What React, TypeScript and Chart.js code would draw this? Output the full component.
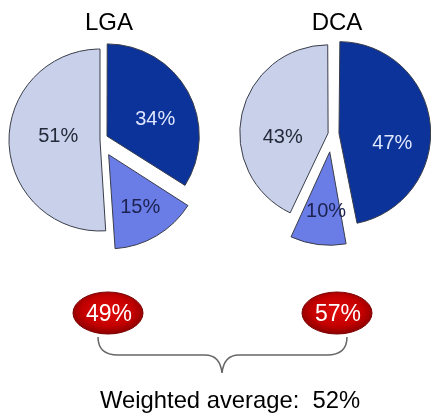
import React, { useEffect, useRef } from "react";
import { Chart, registerables } from "chart.js";

Chart.register(...registerables);

// ---- data ----
const airports = ["LGA", "DCA"];
const segments = ["Segment 1", "Segment 2", "Segment 3"];
const lgaShares = [34, 15, 51];
const dcaShares = [47, 10, 43];
const ovalValues = [49, 57];
const weightedAverage = 52;

// ---- styles ----
const sliceColors = ["#0b3399", "#6a7ce6", "#c9d1ea"];
const labelColors = ["#dfe6ff", "#1c2250", "#252a3a"];
const FONT = "'Liberation Sans', Arial, sans-serif";

type PieCfg = {
  values: number[];
  offsets: number[]; // translation in px
  radius: number;
  padding: { left: number; right: number; top: number; bottom: number };
  labelFrac: number[];
  labelTurn: number[];
  left: number;
  width: number;
  height: number;
};

const pieConfigs: PieCfg[] = [
  {
    values: lgaShares,
    offsets: [8, 17, 0],
    radius: 91,
    padding: { left: 0, right: 15, top: 20, bottom: 0 },
    labelFrac: [0.56, 0.68, 0.46],
    labelTurn: [10, 0, 6],
    left: 0,
    width: 215,
    height: 260,
  },
  {
    values: dcaShares,
    offsets: [7, 18, 4],
    radius: 86,
    padding: { left: 18, right: 0, top: 8, bottom: 0 },
    labelFrac: [0.63, 0.69, 0.53],
    labelTurn: [15.7, -3.6, -17.6],
    left: 215,
    width: 216,
    height: 260,
  },
];

const sliceLabelPlugin = {
  id: "sliceLabels",
  afterDatasetsDraw(chart: any, _args: any, opts: any) {
    const ctx = chart.ctx as CanvasRenderingContext2D;
    const meta = chart.getDatasetMeta(0);
    const values = chart.data.datasets[0].data as number[];
    ctx.save();
    ctx.font = `20px ${FONT}`;
    ctx.textAlign = "center";
    ctx.textBaseline = "middle";
    meta.data.forEach((arc: any, i: number) => {
      const p = arc.getProps(["x", "y", "startAngle", "endAngle", "outerRadius"], true);
      const off = (arc.options.offset || 0) / 4;
      const mid = (p.startAngle + p.endAngle) / 2;
      const vx = p.x + Math.cos(mid) * off;
      const vy = p.y + Math.sin(mid) * off;
      const a = mid + ((opts.turn[i] || 0) * Math.PI) / 180;
      const r = p.outerRadius * opts.frac[i];
      ctx.fillStyle = labelColors[i];
      ctx.fillText(`${values[i]}%`, vx + Math.cos(a) * r, vy + Math.sin(a) * r);
    });
    ctx.restore();
  },
};

function Pie({ cfg }: { cfg: PieCfg }) {
  const ref = useRef<HTMLCanvasElement | null>(null);
  useEffect(() => {
    if (!ref.current) return;
    const chart = new Chart(ref.current, {
      type: "pie",
      data: {
        labels: segments,
        datasets: [
          {
            data: cfg.values,
            backgroundColor: sliceColors,
            borderColor: "#3a3d4a",
            borderWidth: 1,
            offset: cfg.offsets.map((d) => d * 4),
          } as any,
        ],
      },
      options: {
        responsive: false,
        animation: false,
        radius: cfg.radius,
        layout: { padding: cfg.padding },
        plugins: {
          legend: { display: false },
          tooltip: { enabled: false },
          title: { display: false },
          sliceLabels: { frac: cfg.labelFrac, turn: cfg.labelTurn },
        } as any,
        events: [],
      } as any,
      plugins: [sliceLabelPlugin],
    });
    return () => chart.destroy();
  }, [cfg]);
  return (
    <canvas
      ref={ref}
      width={cfg.width}
      height={cfg.height}
      style={{ position: "absolute", left: cfg.left, top: 0, width: cfg.width, height: cfg.height }}
    />
  );
}

const titleX = [109, 337];
const ovalX = [108, 337];

export default function App() {
  return (
    <div
      style={{
        position: "absolute",
        left: 0,
        top: 0,
        width: 431,
        height: 415,
        background: "#ffffff",
        overflow: "hidden",
        fontFamily: FONT,
      }}
    >
      {pieConfigs.map((cfg, i) => (
        <Pie key={i} cfg={cfg} />
      ))}
      <svg
        width={431}
        height={415}
        style={{ position: "absolute", left: 0, top: 0, pointerEvents: "none" }}
      >
        <defs>
          <radialGradient id="ovalGrad" cx="50%" cy="45%" r="55%">
            <stop offset="0%" stopColor="#e00a0a" />
            <stop offset="65%" stopColor="#c40000" />
            <stop offset="100%" stopColor="#8c0000" />
          </radialGradient>
        </defs>
        {airports.map((name, i) => (
          <text
            key={name}
            x={titleX[i]}
            y={30}
            textAnchor="middle"
            fontSize={24}
            fill="#000"
            fontFamily={FONT}
          >
            {name}
          </text>
        ))}
        {ovalValues.map((v, i) => (
          <g key={i}>
            <ellipse
              cx={ovalX[i]}
              cy={313}
              rx={35}
              ry={21}
              fill="url(#ovalGrad)"
              stroke="#7a0000"
              strokeWidth={1}
            />
            <text
              x={ovalX[i] + 1}
              y={321}
              textAnchor="middle"
              fontSize={23}
              fill="#ffffff"
              fontFamily={FONT}
            >
              {`${v}%`}
            </text>
          </g>
        ))}
        <path
          d="M98,337 Q98,355 118,355 L205,355 Q220,355 222,373 Q224,355 239,355 L327,355 Q347,355 347,337"
          fill="none"
          stroke="#666"
          strokeWidth={1.5}
        />
        <text
          x={100}
          y={408}
          fontSize={23.8}
          fill="#000"
          fontFamily={FONT}
          style={{ whiteSpace: "pre" }}
        >
          {`Weighted average:  ${weightedAverage}%`}
        </text>
      </svg>
    </div>
  );
}
